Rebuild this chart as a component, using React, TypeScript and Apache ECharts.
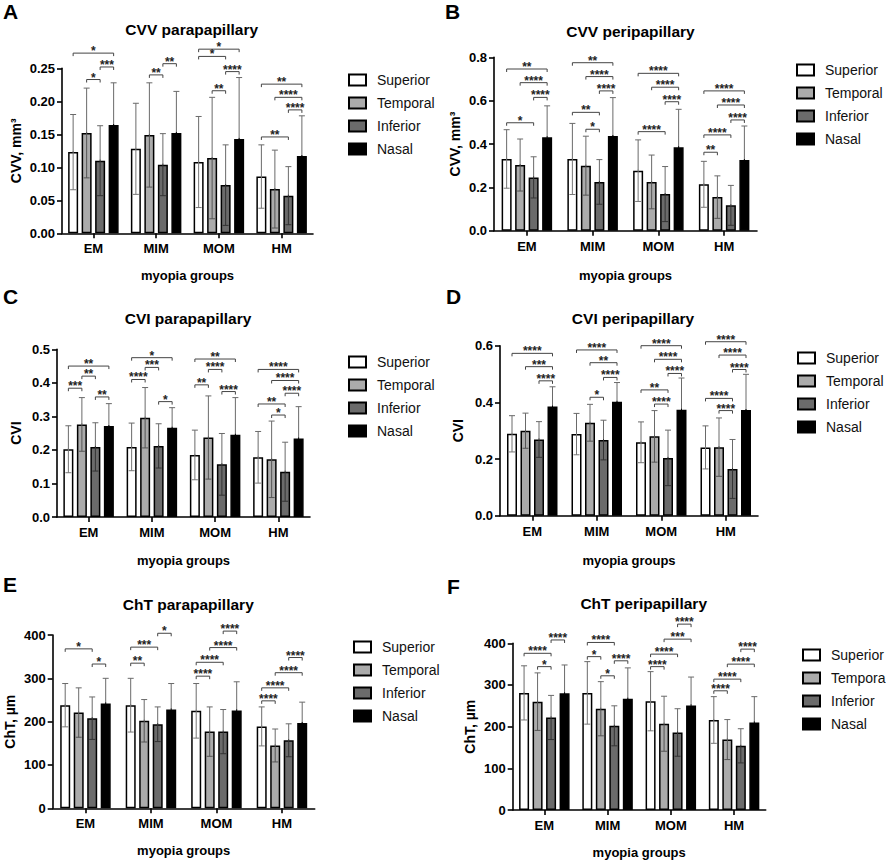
import React, { useEffect, useRef } from 'react';
import * as echarts from 'echarts';

const FONT = '"Liberation Sans", Arial, Helvetica, sans-serif';

const CATEGORIES = ['EM', 'MIM', 'MOM', 'HM'];
const REGIONS = ['Superior', 'Temporal', 'Inferior', 'Nasal'];
const REGIONS_F = ['Superior', 'Tempora', 'Inferior', 'Nasal'];

// rows: Superior, Temporal, Inferior, Nasal ; columns: EM, MIM, MOM, HM
const CVV_PARA_MEAN = [
  [0.123, 0.128, 0.108, 0.086],
  [0.152, 0.149, 0.114, 0.067],
  [0.110, 0.104, 0.073, 0.057],
  [0.164, 0.152, 0.143, 0.117],
];
const CVV_PARA_SD = [
  [0.057, 0.069, 0.069, 0.048],
  [0.068, 0.079, 0.092, 0.059],
  [0.053, 0.047, 0.061, 0.044],
  [0.064, 0.063, 0.093, 0.061],
];
// [group, fromBar, toBar, y, stars]
const CVV_PARA_SIG = [
  [0, 0, 3, 0.273, 1], [0, 2, 3, 0.252, 3], [0, 1, 2, 0.233, 1],
  [1, 2, 3, 0.257, 2], [1, 1, 2, 0.240, 2],
  [2, 0, 3, 0.279, 1], [2, 0, 2, 0.268, 1], [2, 2, 3, 0.245, 4], [2, 1, 2, 0.216, 2],
  [3, 0, 3, 0.226, 2], [3, 1, 3, 0.206, 4], [3, 2, 3, 0.187, 4], [3, 0, 2, 0.146, 2],
];

const CVV_PERI_MEAN = [
  [0.331, 0.331, 0.277, 0.214],
  [0.303, 0.300, 0.225, 0.155],
  [0.246, 0.225, 0.169, 0.117],
  [0.431, 0.437, 0.385, 0.326],
];
const CVV_PERI_SD = [
  [0.135, 0.164, 0.142, 0.106],
  [0.120, 0.136, 0.124, 0.098],
  [0.095, 0.103, 0.127, 0.092],
  [0.145, 0.177, 0.175, 0.157],
];
const CVV_PERI_SIG = [
  [0, 0, 3, 0.746, 2], [0, 1, 3, 0.683, 4], [0, 2, 3, 0.615, 4], [0, 0, 2, 0.498, 1],
  [1, 0, 3, 0.775, 2], [1, 1, 3, 0.711, 4], [1, 2, 3, 0.645, 4], [1, 0, 2, 0.546, 2], [1, 1, 2, 0.468, 1],
  [2, 0, 3, 0.726, 4], [2, 1, 3, 0.662, 4], [2, 2, 3, 0.595, 4], [2, 0, 2, 0.457, 4],
  [3, 0, 3, 0.645, 4], [3, 1, 3, 0.580, 4], [3, 2, 3, 0.511, 4], [3, 0, 2, 0.442, 4], [3, 0, 1, 0.362, 2],
];

const CVI_PARA_MEAN = [
  [0.202, 0.209, 0.185, 0.178],
  [0.276, 0.296, 0.237, 0.172],
  [0.209, 0.212, 0.157, 0.135],
  [0.271, 0.266, 0.245, 0.234],
];
const CVI_PARA_SD = [
  [0.070, 0.071, 0.074, 0.077],
  [0.080, 0.090, 0.124, 0.114],
  [0.072, 0.066, 0.092, 0.088],
  [0.067, 0.060, 0.111, 0.095],
];
const CVI_PARA_SIG = [
  [0, 0, 3, 0.450, 2], [0, 1, 2, 0.420, 2], [0, 0, 1, 0.384, 3], [0, 2, 3, 0.358, 2],
  [1, 0, 3, 0.475, 1], [1, 1, 2, 0.446, 3], [1, 0, 1, 0.410, 4], [1, 2, 3, 0.344, 1],
  [2, 0, 3, 0.471, 2], [2, 1, 2, 0.440, 4], [2, 0, 1, 0.394, 2], [2, 2, 3, 0.374, 4],
  [3, 0, 3, 0.440, 4], [3, 1, 3, 0.407, 4], [3, 2, 3, 0.369, 4], [3, 0, 2, 0.337, 2], [3, 1, 2, 0.304, 1],
];

const CVI_PERI_MEAN = [
  [0.289, 0.288, 0.259, 0.241],
  [0.300, 0.328, 0.280, 0.242],
  [0.269, 0.267, 0.204, 0.165],
  [0.385, 0.402, 0.374, 0.373],
];
const CVI_PERI_SD = [
  [0.064, 0.073, 0.072, 0.076],
  [0.062, 0.065, 0.091, 0.103],
  [0.063, 0.070, 0.098, 0.104],
  [0.070, 0.068, 0.112, 0.126],
];
const CVI_PERI_SIG = [
  [0, 0, 3, 0.573, 4], [0, 1, 3, 0.526, 3], [0, 2, 3, 0.476, 4],
  [1, 0, 3, 0.585, 4], [1, 1, 3, 0.540, 2], [1, 2, 3, 0.488, 4], [1, 1, 2, 0.418, 1],
  [2, 0, 3, 0.600, 4], [2, 1, 3, 0.552, 4], [2, 2, 3, 0.502, 4], [2, 0, 2, 0.444, 2], [2, 1, 2, 0.394, 4],
  [3, 0, 3, 0.614, 4], [3, 1, 3, 0.567, 4], [3, 2, 3, 0.516, 4], [3, 0, 2, 0.414, 4], [3, 1, 2, 0.371, 4],
];

const CHT_PARA_MEAN = [
  [238, 238, 225, 189],
  [221, 202, 177, 145],
  [208, 194, 177, 157],
  [242, 228, 226, 197],
];
const CHT_PARA_SD = [
  [50, 62, 63, 45],
  [57, 49, 57, 38],
  [49, 40, 51, 38],
  [58, 60, 66, 48],
];
const CHT_PARA_SIG = [
  [0, 0, 2, 368, 1], [0, 2, 3, 333, 1],
  [1, 0, 2, 372, 3], [1, 2, 3, 404, 1], [1, 0, 1, 335, 2],
  [2, 2, 3, 409, 4], [2, 1, 3, 371, 4], [2, 0, 2, 337, 4], [2, 0, 1, 305, 4],
  [3, 2, 3, 348, 4], [3, 1, 3, 313, 4], [3, 0, 2, 278, 4], [3, 0, 1, 248, 4],
];

const CHT_PERI_MEAN = [
  [281, 281, 261, 216],
  [260, 243, 207, 169],
  [222, 202, 186, 154],
  [280, 267, 251, 210],
];
const CHT_PERI_SD = [
  [65, 75, 71, 56],
  [69, 65, 66, 48],
  [53, 48, 57, 41],
  [68, 74, 68, 62],
];
const CHT_PERI_SIG = [
  [0, 0, 2, 376, 4], [0, 1, 2, 344, 1], [0, 2, 3, 408, 4],
  [1, 0, 2, 402, 4], [1, 0, 1, 368, 1], [1, 2, 3, 358, 4], [1, 1, 2, 322, 1],
  [2, 2, 3, 446, 4], [2, 1, 3, 410, 3], [2, 0, 2, 374, 4], [2, 0, 1, 344, 4],
  [3, 2, 3, 386, 4], [3, 1, 3, 350, 4], [3, 0, 2, 314, 4], [3, 0, 1, 286, 4],
];

// styles
const FILLS = ['#ffffff', '#ababab', '#6b6b6b', '#000000'];
const ERR_LOWER = ['#777777', '#555555', '#333333', '#000000'];
const BAR_W = 10;
const PITCH = 13.5;

const PANELS = [
  {
    letter: 'A', title: 'CVV parapapillary', yName: 'CVV, mm\u00B3', names: REGIONS,
    mean: CVV_PARA_MEAN, sd: CVV_PARA_SD, sig: CVV_PARA_SIG,
    max: 0.25, interval: 0.05, dec: 2,
    grid: { left: 62, top: 68.3, width: 251, height: 165 },
    letterPos: [3, 1], titlePos: [191.7, 29.3], legendPos: [348, 72], yNameGap: 39, xNameGap: 36,
  },
  {
    letter: 'B', title: 'CVV peripapillary', yName: 'CVV, mm\u00B3', names: REGIONS,
    mean: CVV_PERI_MEAN, sd: CVV_PERI_SD, sig: CVV_PERI_SIG,
    max: 0.8, interval: 0.2, dec: 1,
    grid: { left: 494, top: 57.3, width: 263, height: 173.4 },
    letterPos: [445, 1], titlePos: [630.5, 31.7], legendPos: [796, 62], yNameGap: 32, xNameGap: 38,
  },
  {
    letter: 'C', title: 'CVI parapapillary', yName: 'CVI', names: REGIONS,
    mean: CVI_PARA_MEAN, sd: CVI_PARA_SD, sig: CVI_PARA_SIG,
    max: 0.5, interval: 0.1, dec: 1,
    grid: { left: 57, top: 349.3, width: 253, height: 167.7 },
    letterPos: [3, 286], titlePos: [188, 318.3], legendPos: [348, 354], yNameGap: 34, xNameGap: 37,
  },
  {
    letter: 'D', title: 'CVI peripapillary', yName: 'CVI', names: REGIONS,
    mean: CVI_PERI_MEAN, sd: CVI_PERI_SD, sig: CVI_PERI_SIG,
    max: 0.6, interval: 0.2, dec: 1,
    grid: { left: 500, top: 345.7, width: 258, height: 170 },
    letterPos: [446, 286], titlePos: [633, 318.3], legendPos: [797, 350], yNameGap: 35, xNameGap: 38,
  },
  {
    letter: 'E', title: 'ChT parapapillary', yName: 'ChT, \u00B5m', names: REGIONS,
    mean: CHT_PARA_MEAN, sd: CHT_PARA_SD, sig: CHT_PARA_SIG,
    max: 400, interval: 100, dec: 0,
    grid: { left: 52.7, top: 635, width: 262, height: 173.3 },
    letterPos: [3, 574], titlePos: [188.3, 604.3], legendPos: [353, 639], yNameGap: 35.7, xNameGap: 36,
  },
  {
    letter: 'F', title: 'ChT peripapillary', yName: 'ChT, \u00B5m', names: REGIONS_F,
    mean: CHT_PERI_MEAN, sd: CHT_PERI_SD, sig: CHT_PERI_SIG,
    max: 400, interval: 100, dec: 0,
    grid: { left: 512.7, top: 643.3, width: 253, height: 166.7 },
    letterPos: [447, 576], titlePos: [643.7, 603.3], legendPos: [802, 647], yNameGap: 35.7, xNameGap: 35.5,
  },
];

const axisText = { color: '#000', fontFamily: FONT, fontWeight: 'bold' as const, fontSize: 13 };

function buildOption() {
  const series: any[] = [];
  PANELS.forEach((p, i) => {
    p.names.forEach((name, r) => {
      series.push({
        type: 'bar', name, xAxisIndex: i, yAxisIndex: i,
        data: p.mean[r], barWidth: BAR_W, barGap: ((PITCH - BAR_W) / BAR_W) * 100 + '%',
        itemStyle: { color: FILLS[r], borderColor: '#000', borderWidth: 1.5 },
        z: 2, silent: true,
      });
    });
    const errData: number[][] = [];
    for (let r = 0; r < 4; r++) for (let g = 0; g < 4; g++) errData.push([g, r, p.mean[r][g], p.sd[r][g]]);
    series.push({
      type: 'custom', name: 'err' + p.letter, xAxisIndex: i, yAxisIndex: i, z: 3, clip: false, silent: true,
      encode: { x: 0, y: 2 },
      data: errData,
      renderItem: (params: any, api: any) => {
        const g = api.value(0), r = api.value(1), m = api.value(2), s = api.value(3);
        const top = api.coord([g, m + s]);
        const mid = api.coord([g, m]);
        const bot = api.coord([g, m - s]);
        const x = top[0] + (r - 1.5) * PITCH;
        const up = { stroke: '#6a6a6a', lineWidth: 1 };
        const lo = { stroke: ERR_LOWER[r], lineWidth: 1 };
        return {
          type: 'group',
          children: [
            { type: 'line', shape: { x1: x, y1: mid[1], x2: x, y2: top[1] }, style: up },
            { type: 'line', shape: { x1: x - 3, y1: top[1], x2: x + 3, y2: top[1] }, style: up },
            { type: 'line', shape: { x1: x, y1: bot[1], x2: x, y2: mid[1] - 1 }, style: lo },
            { type: 'line', shape: { x1: x - 3, y1: bot[1], x2: x + 3, y2: bot[1] }, style: lo },
          ],
        };
      },
    });
    series.push({
      type: 'custom', name: 'sig' + p.letter, xAxisIndex: i, yAxisIndex: i, z: 4, clip: false, silent: true,
      encode: { x: 0, y: 3 },
      data: p.sig,
      renderItem: (params: any, api: any) => {
        const g = api.value(0), a = api.value(1), b = api.value(2), y = api.value(3), n = api.value(4);
        const pt = api.coord([g, y]);
        const xa = pt[0] + (a - 1.5) * PITCH;
        const xb = pt[0] + (b - 1.5) * PITCH;
        const yy = pt[1];
        return {
          type: 'group',
          children: [
            {
              type: 'polyline',
              shape: { points: [[xa, yy + 3], [xa, yy], [xb, yy], [xb, yy + 3]] },
              style: { stroke: '#444', lineWidth: 1, fill: 'none' },
            },
            {
              type: 'text', x: (xa + xb) / 2, y: yy - 2,
              style: {
                text: '*'.repeat(n), fill: '#222', fontSize: 12, lineHeight: 12, fontWeight: 'bold', fontFamily: FONT,
                align: 'center', verticalAlign: 'middle',
              },
            },
          ],
        };
      },
    });
  });

  const graphic: any[] = [];
  PANELS.forEach((p) => {
    graphic.push({
      type: 'text', x: p.letterPos[0], y: p.letterPos[1], silent: true,
      style: { text: p.letter, fill: '#000', fontSize: 21, fontWeight: 'bold', fontFamily: FONT, align: 'left', verticalAlign: 'top' },
    });
    graphic.push({
      type: 'text', x: p.titlePos[0], y: p.titlePos[1], silent: true,
      style: { text: p.title, fill: '#000', fontSize: 15.5, fontWeight: 'bold', fontFamily: FONT, align: 'center', verticalAlign: 'middle' },
    });
  });

  return {
    animation: false,
    backgroundColor: '#ffffff',
    textStyle: { fontFamily: FONT },
    grid: PANELS.map((p) => ({ ...p.grid, containLabel: false })),
    xAxis: PANELS.map((p, i) => ({
      type: 'category', gridIndex: i, data: CATEGORIES,
      axisLine: { show: true, lineStyle: { color: '#000', width: 1.6 } },
      axisTick: { show: true, alignWithLabel: true, length: 5, lineStyle: { color: '#000', width: 1.6 } },
      axisLabel: { ...axisText, margin: 9 },
      name: 'myopia groups', nameLocation: 'middle', nameGap: p.xNameGap,
      nameTextStyle: { ...axisText, fontSize: 13 },
      splitLine: { show: false },
    })),
    yAxis: PANELS.map((p, i) => ({
      type: 'value', gridIndex: i, min: 0, max: p.max, interval: p.interval,
      axisLine: { show: true, lineStyle: { color: '#000', width: 1.6 } },
      axisTick: { show: true, length: 5, lineStyle: { color: '#000', width: 1.6 } },
      axisLabel: { ...axisText, margin: 7, formatter: (v: number) => v.toFixed(p.dec) },
      splitLine: { show: false },
      name: p.yName, nameLocation: 'middle', nameGap: p.yNameGap,
      nameTextStyle: { ...axisText, fontSize: 14 },
    })),
    legend: PANELS.map((p) => ({
      data: p.names, orient: 'vertical', left: p.legendPos[0], top: p.legendPos[1],
      padding: 0, itemWidth: 17, itemHeight: 11, itemGap: 7, icon: 'rect', selectedMode: false,
      textStyle: { fontSize: 14, fontFamily: FONT, color: '#111', lineHeight: 16, padding: [0, 0, 0, 6] },
    })),
    graphic,
    series,
  };
}

export default function App() {
  const ref = useRef<HTMLDivElement>(null);
  useEffect(() => {
    if (!ref.current) return;
    const chart = echarts.init(ref.current, null, { renderer: 'svg', width: 886, height: 863 });
    chart.setOption(buildOption() as any);
    return () => chart.dispose();
  }, []);
  return (
    <div
      ref={ref}
      style={{ position: 'absolute', left: 0, top: 0, width: 886, height: 863, background: '#fff' }}
    />
  );
}
